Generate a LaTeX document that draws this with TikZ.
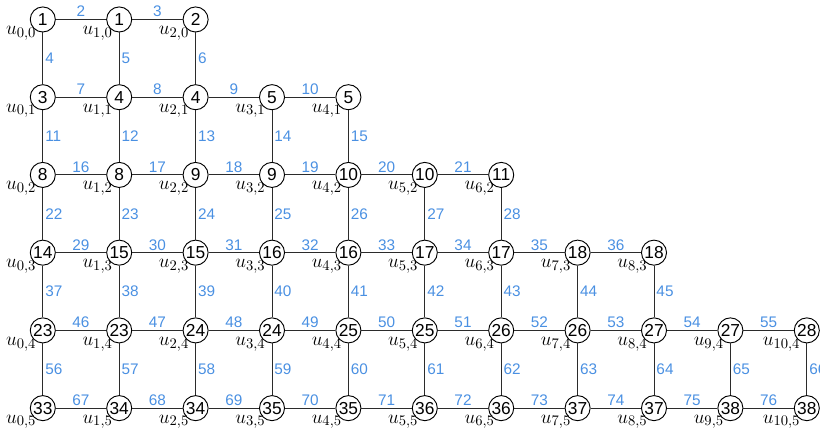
\documentclass[tikz,border=0pt]{standalone}
\usepackage{fontspec}
\setsansfont{Liberation Sans}
\usepackage{tikz}
\usetikzlibrary{positioning}
\definecolor{edgeblue}{HTML}{4A90E2}
\definecolor{gridgray}{HTML}{2B2B2B}

\begin{document}
\begin{tikzpicture}[x=57.3pt, y=-58.3pt,
    cell/.style={circle, draw=black, line width=0.7pt, fill=white,
      minimum size=18.8pt, inner sep=0pt, font=\sffamily\fontsize{13}{15}\selectfont},
    ulab/.style={inner sep=0pt, label distance=-3pt, font=\fontsize{15}{17}\selectfont},
    elab/.style={text=edgeblue, inner sep=1.5pt, font=\sffamily\fontsize{11.5}{13}\selectfont},
    link/.style={draw=gridgray, line width=0.7pt}]
  \useasboundingbox (-32.1pt,14.6pt) rectangle (582.9pt,-309.4pt);

  % grid points, one list per row
  \foreach \vals [count=\row from 0] in {{1,1,2},{3,4,4,5,5},{8,8,9,9,10,10,11},
      {14,15,15,16,16,17,17,18,18},{23,23,24,24,25,25,26,26,27,27,28},
      {33,34,34,35,35,36,36,37,37,38,38}}
    \foreach \v [count=\col from 0] in \vals
      \node[cell, label={[ulab]below left:$u_{\col,\row}$}] (n-\col-\row) at (\col,\row) {\v};

  % horizontal links, first/last label of each row
  \foreach \first/\last [count=\row from 0] in {2/3,7/10,16/21,29/36,46/55,67/76}
    \foreach \lab [count=\col from 1] in {\first,...,\last} {
      \pgfmathtruncatemacro\prv{\col-1}
      \draw[link] (n-\prv-\row) -- node[elab, above] {\lab} (n-\col-\row);
    }

  % vertical links
  \foreach \first/\last [count=\row from 0] in {4/6,11/15,22/28,37/45,56/66}
    \foreach \lab [count=\col from 0] in {\first,...,\last} {
      \pgfmathtruncatemacro\nxt{\row+1}
      \draw[link] (n-\col-\row) -- node[elab, right] {\lab} (n-\col-\nxt);
    }
\end{tikzpicture}
\end{document}
